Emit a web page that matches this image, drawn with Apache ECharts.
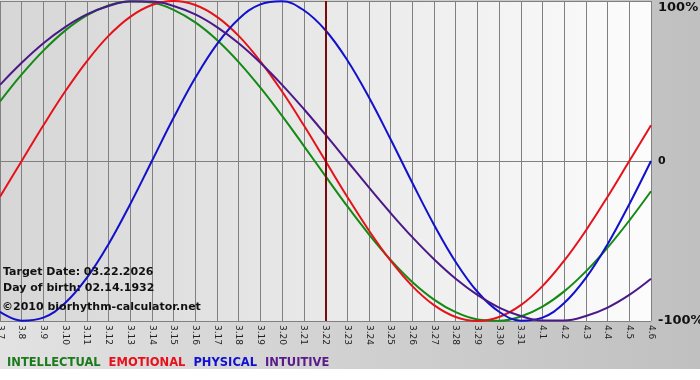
<!DOCTYPE html>
<html>
<head>
<meta charset="utf-8">
<script src="https://cdn.jsdelivr.net/npm/echarts@6/dist/echarts.min.js"></script>
<style>html,body{margin:0;padding:0;background:#fff;}#c{width:700px;height:380px;}</style>
</head>
<body>
<div id="c"></div>
<script>
const days = ['3.7','3.8','3.9','3.10','3.11','3.12','3.13','3.14','3.15','3.16','3.17','3.18','3.19','3.20','3.21','3.22','3.23','3.24','3.25','3.26','3.27','3.28','3.29','3.30','3.31','4.1','4.2','4.3','4.4','4.5','4.6'];
const intellectual = [37.2,54.1,69.0,81.5,91.0,97.2,99.9,99.0,94.5,86.6,75.6,61.8,45.8,28.2,9.5,-9.5,-28.2,-45.8,-61.8,-75.6,-86.6,-94.5,-99.0,-99.9,-97.2,-91.0,-81.5,-69.0,-54.1,-37.2,-18.9];
const emotional = [-22.3,0,22.3,43.4,62.3,78.2,90.1,97.5,100,97.5,90.1,78.2,62.3,43.4,22.3,0,-22.3,-43.4,-62.3,-78.2,-90.1,-97.5,-100,-97.5,-90.1,-78.2,-62.3,-43.4,-22.3,0,22.3];
const physical = [-94.2,-99.8,-97.9,-88.8,-73.1,-52.0,-27.0,0,27.0,52.0,73.1,88.8,97.9,99.8,94.2,81.7,63.1,39.8,13.6,-13.6,-39.8,-63.1,-81.7,-94.2,-99.8,-97.9,-88.8,-73.1,-52.0,-27.0,0];
const intuitive = [47.6,61.4,73.6,83.7,91.6,96.9,99.7,99.7,96.9,91.6,83.7,73.6,61.4,47.6,32.5,16.5,0,-16.5,-32.5,-47.6,-61.4,-73.6,-83.7,-91.6,-96.9,-99.7,-99.7,-96.9,-91.6,-83.7,-73.6];
const targetDay = '3.22';
const yTicks = {'100':'100%','0':'0','-100':'-100%'};
const seriesNames = ['INTELLECTUAL','EMOTIONAL','PHYSICAL','INTUITIVE'];
const seriesColors = ['#138a13','#e5121a','#1111cc','#4b1888'];
const legendColors = ['#1b7a1b','#e8101a','#1010d0','#5a1a8a'];
const infoLines = ['Target Date: 03.22.2026','Day of birth: 02.14.1932','©2010 biorhythm-calculator.net'];

const FONT = 'DejaVu Sans, Verdana, sans-serif';
const chart = echarts.init(document.getElementById('c'), null, {renderer:'canvas'});
const values = [intellectual, emotional, physical, intuitive];
const series = seriesNames.map((n,i)=>({
  name:n, type:'line', data: values[i], smooth: 0.4, symbol:'none',
  lineStyle:{color:seriesColors[i], width:2}, itemStyle:{color:seriesColors[i]},
  z: 3,
  markLine: i===0 ? {silent:true, symbol:'none', label:{show:false},
    lineStyle:{color:'#7a0a0a', width:2, type:'solid'}, data:[{xAxis:targetDay}]} : undefined
}));
chart.setOption({
  animation:false,
  backgroundColor: new echarts.graphic.LinearGradient(0,0,1,0,[{offset:0,color:'#e2e2e2'},{offset:1,color:'#c0c0c0'}]),
  grid:{left:0, right:49, top:1, bottom:59, show:true, borderWidth:0, containLabel:false, outerBoundsMode:'none',
    backgroundColor: new echarts.graphic.LinearGradient(0,0,1,0,[{offset:0,color:'#d6d6d6'},{offset:1,color:'#fcfcfc'}])},
  xAxis:{type:'category', data:days, boundaryGap:false,
    axisLine:{lineStyle:{color:'#808080'}},
    axisTick:{show:true, length:3, interval:0, lineStyle:{color:'#808080'}},
    axisLabel:{interval:0, rotate:-90, fontSize:9, color:'#222', fontFamily:FONT, margin:4, hideOverlap:false},
    splitLine:{show:true, interval:0, lineStyle:{color:'#808080', width:1}}},
  yAxis:{type:'value', position:'right', min:-100, max:100, interval:100,
    axisLine:{show:false}, axisTick:{show:false},
    splitLine:{show:true, lineStyle:{color:'#808080'}},
    axisLabel:{margin:7, color:'#111', fontFamily:FONT,
      formatter:v=> v===100 ? '{t|'+yTicks['100']+'}' : (v===0 ? '{z|'+yTicks['0']+'}' : '{b|'+yTicks[String(v)]+'}'),
      rich:{t:{fontSize:13, fontWeight:'bold', color:'#111', fontFamily:FONT, padding:[13,0,0,0]},
            z:{fontSize:11, fontWeight:'bold', color:'#111', fontFamily:FONT},
            b:{fontSize:13, fontWeight:'bold', color:'#111', fontFamily:FONT}}}},
  legend:{left:-3, top:352, icon:'none', itemWidth:0, itemHeight:0, itemGap:3, selectedMode:false,
    textStyle:{fontSize:11.5, fontWeight:'bold', fontFamily:FONT},
    data: seriesNames.map((n,i)=>({name:n, textStyle:{color:legendColors[i], fontWeight:'bold', fontSize:11.5, fontFamily:FONT}}))},
  graphic:[
    {type:'rect', left:0, top:369, shape:{width:700, height:11}, style:{fill:'#ffffff'}, silent:true},
    {type:'text', left:3, top:267, style:{text:infoLines[0], font:'bold 11px '+FONT, fill:'#111'}, z:10},
    {type:'text', left:3, top:283, style:{text:infoLines[1], font:'bold 11px '+FONT, fill:'#111'}, z:10},
    {type:'text', left:2, top:302, style:{text:infoLines[2], font:'bold 11px '+FONT, fill:'#111'}, z:10}
  ],
  series: series
});
</script>
</body>
</html>
